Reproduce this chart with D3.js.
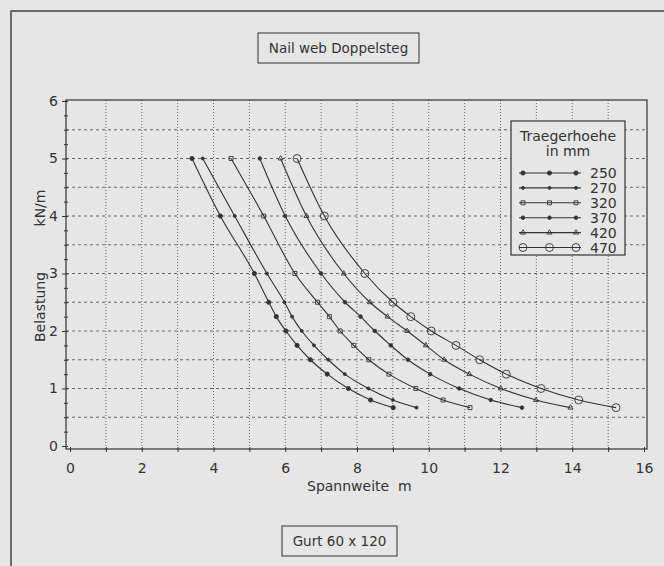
<!DOCTYPE html>
<html>
<head>
<meta charset="utf-8">
<script src="https://cdn.jsdelivr.net/npm/d3@7"></script>
<style>
  body { margin: 0; background: #e6e6e6; }
  svg { display: block; font-family: "DejaVu Sans", sans-serif; }
</style>
</head>
<body>
<div id="root"></div>
<script>
// Belastung in kN/m (same load steps for every Traegerhoehe)
const loads = [5, 4, 3, 2.5, 2.25, 2, 1.75, 1.5, 1.25, 1, 0.8, 0.667]

// Spannweite in m for each Traegerhoehe
const span250 = [3.40, 4.19, 5.14, 5.54, 5.75, 6.02, 6.33, 6.70, 7.17, 7.76, 8.38, 9.01]
const span270 = [3.70, 4.59, 5.49, 5.98, 6.19, 6.46, 6.80, 7.20, 7.66, 8.32, 9.00, 9.66]
const span320 = [4.49, 5.40, 6.27, 6.90, 7.23, 7.53, 7.91, 8.33, 8.89, 9.64, 10.40, 11.15]
const span370 = [5.29, 6.00, 7.00, 7.67, 8.10, 8.50, 8.94, 9.42, 10.04, 10.85, 11.73, 12.60]
const span420 = [5.87, 6.59, 7.63, 8.36, 8.85, 9.40, 9.92, 10.43, 11.13, 12.01, 12.99, 13.95]
const span470 = [6.33, 7.09, 8.22, 9.00, 9.50, 10.07, 10.76, 11.42, 12.16, 13.13, 14.18, 15.22]

const heights = ['250', '270', '320', '370', '420', '470']
const xTicks = [0, 2, 4, 6, 8, 10, 12, 14, 16]
const yTicks = [0, 1, 2, 3, 4, 5, 6]

const seriesSpans = [span250, span270, span320, span370, span420, span470]
const series = heights.map((h, i) => ({
  name: h,
  points: loads.map((q, j) => ({ x: seriesSpans[i][j], y: q }))
}))

const ink = '#333'
const width = 664
const height = 566

const svg = d3.create('svg')
  .attr('width', width)
  .attr('height', height)

svg.append('rect')
  .attr('width', width)
  .attr('height', height)
  .attr('fill', '#e6e6e6')

// outer frame (only top and left visible)
svg.append('path')
  .attr('d', `M11,${height} L11,11 L${width},11`)
  .attr('fill', 'none')
  .attr('stroke', '#444')
  .attr('stroke-width', 1.5)

const scaleX = d3.scaleLinear().domain([0, 16]).range([70, 644])
const scaleY = d3.scaleLinear().domain([0, 6]).range([446, 101])

const frame = { x0: 66, x1: 647, y0: 100, y1: 449 }

// grid
const grid = svg.append('g')
grid.selectAll('.vgrid')
  .data(d3.range(1, 16))
  .enter()
  .append('line')
  .attr('x1', d => scaleX(d))
  .attr('x2', d => scaleX(d))
  .attr('y1', frame.y0)
  .attr('y2', frame.y1)
  .attr('stroke', '#666')
  .attr('stroke-width', 1)
  .attr('stroke-dasharray', '1,2')

grid.selectAll('.hgrid')
  .data(d3.range(0.5, 6, 0.5))
  .enter()
  .append('line')
  .attr('x1', frame.x0)
  .attr('x2', frame.x1)
  .attr('y1', d => scaleY(d))
  .attr('y2', d => scaleY(d))
  .attr('stroke', '#666')
  .attr('stroke-width', 1)
  .attr('stroke-dasharray', '3,3')

// plot frame
svg.append('rect')
  .attr('x', frame.x0)
  .attr('y', frame.y0)
  .attr('width', frame.x1 - frame.x0)
  .attr('height', frame.y1 - frame.y0)
  .attr('fill', 'none')
  .attr('stroke', ink)
  .attr('stroke-width', 1.2)

// x-axis
const axisX = d3.axisBottom(scaleX)
  .tickValues(d3.range(0, 17))
  .tickSize(3)
  .tickFormat(d => xTicks.includes(d) ? d : '')

const gx = svg.append('g')
  .attr('transform', `translate(0, ${frame.y1})`)
  .call(axisX)
gx.select('.domain').remove()
gx.selectAll('line').attr('stroke', ink).attr('y1', -2).attr('y2', 3)
gx.selectAll('text')
  .attr('y', 14)
  .attr('fill', ink)
  .style('font-size', '14px')
  .style('font-family', '"DejaVu Sans", sans-serif')

// y-axis
const axisY = d3.axisLeft(scaleY)
  .tickValues(d3.range(0, 6.01, 0.25))
  .tickSize(3)
  .tickFormat(d => yTicks.includes(d) ? d : '')

const gy = svg.append('g')
  .attr('transform', `translate(${frame.x0}, 0)`)
  .call(axisY)
gy.select('.domain').remove()
gy.selectAll('line').attr('stroke', ink).attr('x1', d => d % 1 === 0 ? -4 : -2).attr('x2', 2)
gy.selectAll('text')
  .attr('x', -8)
  .attr('fill', ink)
  .style('font-size', '14px')
  .style('font-family', '"DejaVu Sans", sans-serif')

// axis titles
svg.append('text')
  .attr('x', 307)
  .attr('y', 491)
  .attr('fill', ink)
  .style('font-size', '14px')
  .style('white-space', 'pre')
  .text('Spannweite  m')

svg.append('text')
  .attr('transform', 'translate(45, 307) rotate(-90)')
  .attr('text-anchor', 'middle')
  .attr('fill', ink)
  .style('font-size', '14px')
  .text('Belastung')

svg.append('text')
  .attr('transform', 'translate(45, 208) rotate(-90)')
  .attr('text-anchor', 'middle')
  .attr('fill', ink)
  .style('font-size', '14px')
  .text('kN/m')

// marker per series
const markers = {
  '250': { shape: d3.symbolCircle, size: 14, fill: ink },
  '270': { shape: d3.symbolCircle, size: 7, fill: ink },
  '320': { shape: d3.symbolSquare, size: 16, fill: 'none' },
  '370': { shape: d3.symbolCircle, size: 10, fill: ink },
  '420': { shape: d3.symbolTriangle, size: 11, fill: 'none' },
  '470': { shape: d3.symbolCircle, size: 50, fill: 'none' }
}

function drawMarker(sel, name) {
  const m = markers[name]
  sel.append('path')
    .attr('d', d3.symbol().type(m.shape).size(m.size))
    .attr('fill', m.fill)
    .attr('stroke', ink)
    .attr('stroke-width', 0.9)
}

const line = d3.line()
  .x(d => scaleX(d.x))
  .y(d => scaleY(d.y))
  .curve(d3.curveMonotoneX)

const lineGroup = svg.append('g')
series.forEach(s => {
  lineGroup.append('path')
    .datum(s.points)
    .attr('d', line)
    .attr('fill', 'none')
    .attr('stroke', ink)
    .attr('stroke-width', 1.1)

  lineGroup.selectAll(null)
    .data(s.points)
    .enter()
    .append('g')
    .attr('transform', d => `translate(${scaleX(d.x)}, ${scaleY(d.y)})`)
    .each(function() { drawMarker(d3.select(this), s.name) })
})

// legend
const legend = svg.append('g')
legend.append('rect')
  .attr('x', 511)
  .attr('y', 121)
  .attr('width', 114)
  .attr('height', 134)
  .attr('fill', '#e6e6e6')
  .attr('stroke', ink)
  .attr('stroke-width', 1.2)

legend.append('text')
  .attr('x', 568)
  .attr('y', 141)
  .attr('text-anchor', 'middle')
  .attr('fill', ink)
  .style('font-size', '14px')
  .text('Traegerhoehe')

legend.append('text')
  .attr('x', 568)
  .attr('y', 156)
  .attr('text-anchor', 'middle')
  .attr('fill', ink)
  .style('font-size', '14px')
  .text('in mm')

heights.forEach((h, i) => {
  const y = 173 + i * 14.9
  legend.append('line')
    .attr('x1', 519)
    .attr('x2', 581)
    .attr('y1', y)
    .attr('y2', y)
    .attr('stroke', ink)
    .attr('stroke-width', 1.1)
  ;[523, 549.5, 576].forEach(x => {
    drawMarker(legend.append('g').attr('transform', `translate(${x}, ${y})`), h)
  })
  legend.append('text')
    .attr('x', 590)
    .attr('y', y + 5)
    .attr('fill', ink)
    .style('font-size', '14px')
    .text(h)
})

// boxed captions
function caption(text, x, y, w, h) {
  svg.append('rect')
    .attr('x', x)
    .attr('y', y)
    .attr('width', w)
    .attr('height', h)
    .attr('fill', 'none')
    .attr('stroke', ink)
    .attr('stroke-width', 1)
  svg.append('text')
    .attr('x', x + w / 2)
    .attr('y', y + h / 2 + 5)
    .attr('text-anchor', 'middle')
    .attr('fill', ink)
    .style('font-size', '13.5px')
    .text(text)
}

caption('Nail web Doppelsteg', 258, 33, 161, 30)
caption('Gurt 60 x 120', 282, 526, 115, 30)

document.getElementById('root').appendChild(svg.node())
</script>
</body>
</html>
